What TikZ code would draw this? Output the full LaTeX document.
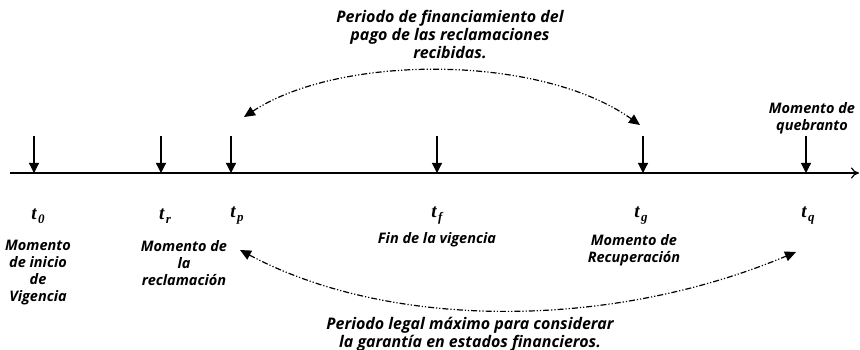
\documentclass[tikz,border=0pt]{standalone}
\usepackage{fontspec}
\setmainfont{Open Sans}
\newfontfamily\tfont{Liberation Serif}
\usetikzlibrary{arrows.meta}
\tikzset{
  txt/.style={font=\bfseries\itshape\fontsize{14.5}{17}\selectfont, align=center, inner sep=0pt},
  bigtxt/.style={font=\bfseries\itshape\fontsize{16}{18}\selectfont, align=center, inner sep=0pt},
  tlab/.style={font=\tfont\bfseries\itshape\fontsize{19}{19}\selectfont, inner sep=0pt},
  tick arrow/.style={line width=1.2pt, -{Triangle[length=10pt,width=10pt]}},
  axisline/.style={line width=1.2pt, -{To[length=8pt,width=11pt]}},
  period/.style={line width=1.2pt, dash pattern=on 6pt off 2pt on 1.2pt off 2pt on 1.2pt off 2pt, {Triangle[length=11pt,width=10pt]}-{Triangle[length=11pt,width=10pt]}}
}
\newcommand{\tsub}[1]{t\kern1.5pt\raisebox{-4pt}{\fontsize{13}{13}\selectfont #1}}
\begin{document}
\begin{tikzpicture}[x=1pt,y=-1pt]
\useasboundingbox (0,0) rectangle (860,350);
% axis
\coordinate (a0) at (10,173);
\coordinate (a1) at (859,173);
\draw[axisline] (a0) -- (a1);
% markers
\foreach \n/\x in {m0/34, mr/161, mp/231, mf/437, mg/643, mq/806}{
  \coordinate (\n top) at (\x,136);
  \coordinate (\n bot) at (\x,173);
  \draw[tick arrow] (\n top) -- (\n bot);
}
% t labels
\node[tlab] (l0) at (38,216) {\tsub{0}};
\node[tlab] (lr) at (165,216) {\tsub{r}};
\node[tlab] (lp) at (237,216) {\tsub{p}};
\node[tlab] (lf) at (437,216) {\tsub{f}};
\node[tlab] (lg) at (641,216) {\tsub{g}};
\node[tlab] (lq) at (808,216) {\tsub{q}};
% descriptions
\node[txt, anchor=north] (d0) at (38,240) {Momento\\de inicio\\de\\Vigencia};
\node[txt, anchor=north] (dr) at (184,240) {Momento de\\la\\reclamación};
\node[txt] (df) at (437,240) {Fin de la vigencia};
\node[txt, anchor=north] (dg) at (634,234) {Momento de\\Recuperación};
\node[txt, text depth=0pt] (dq) at (812,116) {Momento de\\quebranto};
\node[bigtxt] (top) at (450,34) {Periodo de financiamiento del\\pago de las reclamaciones\\recibidas.};
\node[bigtxt] (bot) at (470,334) {Periodo legal máximo para considerar\\la garantía en estados financieros.};
% periods
\coordinate (p1s) at (244,117);
\coordinate (p1e) at (640,125);
\draw[period] (p1s) .. controls (340,54) and (540,54) .. (p1e);
\coordinate (p2s) at (240,250);
\coordinate (p2e) at (796,252);
\draw[period] (p2s) .. controls (390,330) and (610,330) .. (p2e);
\end{tikzpicture}
\end{document}
